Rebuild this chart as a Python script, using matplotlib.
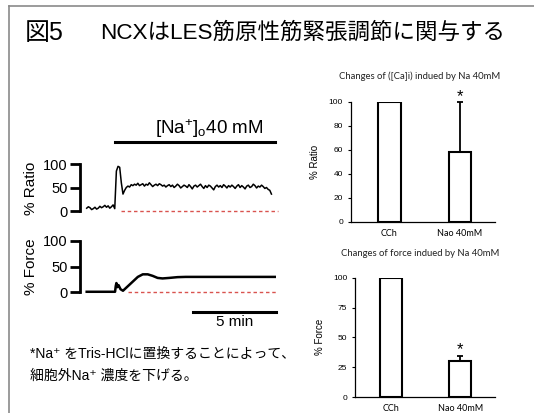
import numpy as np
import matplotlib.pyplot as plt
from matplotlib.lines import Line2D

# --------------------------------------------
# DATA
# --------------------------------------------
sample_min = 0.1  # sampling interval of the ratio trace (min)
ratio_vals = [6, 9, 7, 3, 5, 8, 4, 6, 10, 7, 9, 12, 8, 11, 6, 9, 13, 5,
              85, 95, 93, 60, 36, 44, 50,
              53, 51, 56, 54, 57, 55, 59, 54, 56, 58,
              53, 57, 55, 60, 56, 52, 55, 57, 54, 58,
              56, 53, 55, 51, 54, 56, 52, 55, 50, 53,
              57, 54, 49, 52, 55, 53, 50, 56, 52, 47,
              53, 55, 51, 54, 57, 52, 48, 54, 50, 55,
              53, 49, 45, 52, 55, 51, 54, 50, 56, 53,
              49, 54, 51, 55, 52, 48, 53, 56, 50, 54,
              51, 47, 53, 55, 50, 52, 57, 54, 49, 53,
              51, 55, 52, 48, 50, 46, 44, 36]

force_t = [0, 1.0, 1.72, 1.76, 1.80, 1.86, 1.93, 2.05, 2.2, 2.5, 2.8, 3.1, 3.4,
           3.7, 4.0, 4.3, 4.6, 5.0, 5.5, 6.0, 7.0, 8.0, 9.0, 10.0, 11.4]
force_v = [1, 1, 1, 12, 18, 10, 14, 6, 3, 12, 21, 30, 35,
           35, 32, 28, 27, 28, 29.5, 30, 30, 30, 30, 30, 30]

na_start, na_end = 1.71, 11.4
scale_start, scale_len = 6.46, 5

bar_cats = ["CCh", "Nao 40mM"]
ratio_means = [100, 58.5]
ratio_err = [0, 41.5]
force_means = [100, 30.4]
force_err = [0, 4.0]

W, H = 534, 413


def rect(l, t, r, b):
    return [l / W, 1 - b / H, (r - l) / W, (b - t) / H]


fig = plt.figure(figsize=(W / 100, H / 100), dpi=100)
plt.rcParams['mathtext.fontset'] = 'custom'
plt.rcParams['mathtext.rm'] = 'Liberation Sans'
plt.rcParams['mathtext.it'] = 'Liberation Sans'

# frame
fig.add_artist(Line2D([9 / W, 1], [1 - 6 / H, 1 - 6 / H], color='#8a8a8a', lw=1.2))
fig.add_artist(Line2D([9 / W, 9 / W], [0, 1 - 6 / H], color='#8a8a8a', lw=1.2))

# title
fig.text(25 / W, 1 - 33 / H, "図5", fontsize=18,
         family=['Liberation Sans', 'Noto Sans CJK JP'], va='center')
fig.text(100 / W, 1 - 33 / H, "NCXはLES筋原性筋緊張調節に関与する", fontsize=16.2,
         family=['Liberation Sans', 'Noto Sans CJK JP'], va='center')

trace_font = ['Liberation Sans', 'DejaVu Sans']

# --------------------------------------------
# RATIO TRACE
# --------------------------------------------
ax1 = fig.add_axes(rect(80, 135, 282, 222))
t_ratio = np.arange(len(ratio_vals)) * sample_min
ax1.plot(t_ratio, ratio_vals, color='black', lw=1.1)
ax1.plot([2.06, 11.6], [0, 0], color='#d9534f', lw=1, ls=(0, (2.5, 2)))
ax1.plot([na_start, na_end], [147, 147], color='black', lw=2.2, clip_on=False)
ax1.text(7.45, 175, "[Na$^{+}$]$_{o}$40 mM", fontsize=13.5,
         ha='center', va='center', family=trace_font)
ax1.set_xlim(-0.406, 11.84)
ax1.set_ylim(-23.4, 161.7)

# --------------------------------------------
# FORCE TRACE
# --------------------------------------------
ax2 = fig.add_axes(rect(80, 230, 282, 330))
ax2.plot(force_t, force_v, color='black', lw=1.8)
ax2.plot([2.5, 11.55], [0, 0], color='#d9534f', lw=1, ls=(0, (2.5, 2)))
ax2.plot([scale_start, scale_start + scale_len], [-37.8, -37.8], color='black',
         lw=2.2, clip_on=False)
ax2.text(scale_start + scale_len / 2, -57.5, "5 min", fontsize=11, ha='center',
         va='center', family=trace_font)
ax2.set_xlim(-0.406, 11.84)
ax2.set_ylim(-73.5, 121.4)

for ax, lab, ymid in [(ax1, "% Ratio", 188), (ax2, "% Force", 267)]:
    for s in ['top', 'right', 'bottom']:
        ax.spines[s].set_visible(False)
    ax.spines['left'].set_linewidth(2)
    ax.spines['left'].set_bounds(0, 100)
    ax.set_xticks([])
    ax.set_yticks([0, 50, 100])
    ax.tick_params(axis='y', direction='out', length=7, width=2, labelsize=10.5, pad=2)
    for tl in ax.get_yticklabels():
        tl.set_family(trace_font)
    ax.patch.set_alpha(0)
    fig.text(31 / W, 1 - ymid / H, lab, rotation=90, fontsize=11, ha='center',
             va='center', family=trace_font)

# footnote
note_font = ['Liberation Sans', 'Noto Sans CJK JP', 'DejaVu Sans']
fig.text(30 / W, 1 - 354 / H, "*Na⁺ をTris-HClに置換することによって、", fontsize=10,
         family=note_font, va='center')
fig.text(30 / W, 1 - 376 / H, "細胞外Na⁺ 濃度を下げる。", fontsize=10,
         family=note_font, va='center')

# --------------------------------------------
# BAR CHARTS
# --------------------------------------------
bar_specs = [
    (rect(350.7, 101.7, 495, 221.7), ratio_means, ratio_err, "% Ratio",
     [0, 20, 40, 60, 80, 100], "Changes of ([Ca]i) indued by Na 40mM", 76.7, 104, (-0.55, 1.5)),
    (rect(355, 277.7, 495, 397), force_means, force_err, "% Force",
     [0, 25, 50, 75, 100], "Changes of force indued by Na 40mM", 254, 39.5, (-0.52, 1.5)),
]
for r, means, errs, ylab, yt, title, title_y, star_y, xl in bar_specs:
    ax = fig.add_axes(r)
    x = np.arange(len(bar_cats))
    ax.bar(x, means, width=0.32, color='white', edgecolor='black', lw=1.5, zorder=2)
    ax.errorbar(x[1], means[1], yerr=[[0], [errs[1]]], fmt='none', ecolor='black',
                elinewidth=1.3, capsize=2, capthick=1.3, zorder=1, clip_on=False)
    ax.text(x[1], star_y, "*", fontsize=12, ha='center', va='center',
            family=trace_font)
    ax.set_xlim(*xl)
    ax.set_ylim(0, 100)
    ax.set_yticks(yt)
    ax.set_xticks(x)
    ax.set_xticklabels(bar_cats, family=['Lato', 'DejaVu Sans'], fontsize=6.5)
    for tl in ax.get_yticklabels():
        tl.set_family(trace_font)
    ax.tick_params(axis='y', direction='out', length=2.5, width=0.8, labelsize=6, pad=3)
    ax.tick_params(axis='x', length=0, pad=5)
    for s in ['top', 'right']:
        ax.spines[s].set_visible(False)
    ax.spines['left'].set_linewidth(0.9)
    ax.spines['bottom'].set_linewidth(0.9)
    ax.set_ylabel(ylab, fontsize=7, family=trace_font, labelpad=6)
    fig.text(420 / W, 1 - title_y / H, title, fontsize=6.8, ha='center', va='center',
             family=['Lato', 'DejaVu Sans'], color='#222222')

fig.savefig("out.png", dpi=100)
plt.close(fig)
